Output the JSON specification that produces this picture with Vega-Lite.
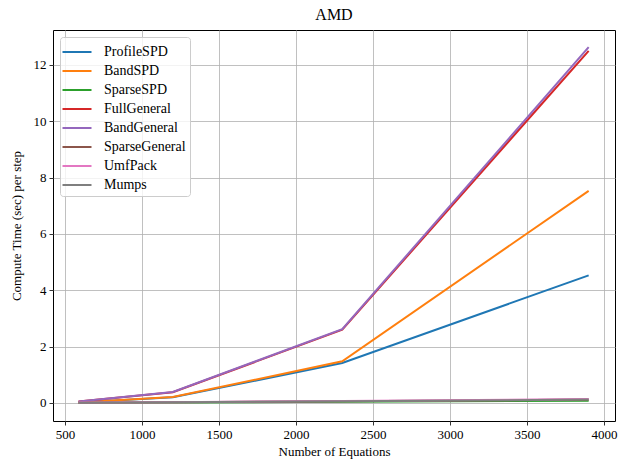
{
  "$schema": "https://vega.github.io/schema/vega-lite/v6.json",
  "width": 562,
  "height": 391,
  "autosize": {"type": "none"},
  "padding": {"left": 53, "top": 30, "right": 13, "bottom": 49},
  "background": "white",
  "title": {"text": "AMD", "font": "Liberation Serif", "fontSize": 16, "fontWeight": "normal", "color": "black", "offset": 7},
  "config": {
    "view": {"stroke": "black", "strokeWidth": 1},
    "font": "Liberation Serif",
    "axis": {
      "grid": true, "gridColor": "#b0b0b0", "gridWidth": 0.8,
      "domain": false, "tickColor": "black", "tickSize": 4, "tickWidth": 0.8,
      "labelFont": "Liberation Serif", "labelFontSize": 13, "labelColor": "black", "labelPadding": 3,
      "titleFont": "Liberation Serif", "titleFontSize": 13, "titleFontWeight": "normal", "titleColor": "black"
    }
  },
  "data": {"values": [
    {"series": "ProfileSPD", "n": 588, "t": 0.02},
    {"series": "ProfileSPD", "n": 1200, "t": 0.2},
    {"series": "ProfileSPD", "n": 2300, "t": 1.42},
    {"series": "ProfileSPD", "n": 3900, "t": 4.53},
    {"series": "BandSPD", "n": 588, "t": 0.02},
    {"series": "BandSPD", "n": 1200, "t": 0.21},
    {"series": "BandSPD", "n": 2300, "t": 1.48},
    {"series": "BandSPD", "n": 3900, "t": 7.53},
    {"series": "SparseSPD", "n": 588, "t": 0.005},
    {"series": "SparseSPD", "n": 1200, "t": 0.015},
    {"series": "SparseSPD", "n": 2300, "t": 0.04},
    {"series": "SparseSPD", "n": 3900, "t": 0.08},
    {"series": "FullGeneral", "n": 588, "t": 0.05},
    {"series": "FullGeneral", "n": 1200, "t": 0.38},
    {"series": "FullGeneral", "n": 2300, "t": 2.6},
    {"series": "FullGeneral", "n": 3900, "t": 12.5},
    {"series": "BandGeneral", "n": 588, "t": 0.05},
    {"series": "BandGeneral", "n": 1200, "t": 0.39},
    {"series": "BandGeneral", "n": 2300, "t": 2.62},
    {"series": "BandGeneral", "n": 3900, "t": 12.63},
    {"series": "SparseGeneral", "n": 588, "t": 0.01},
    {"series": "SparseGeneral", "n": 1200, "t": 0.025},
    {"series": "SparseGeneral", "n": 2300, "t": 0.06},
    {"series": "SparseGeneral", "n": 3900, "t": 0.12},
    {"series": "UmfPack", "n": 588, "t": 0.015},
    {"series": "UmfPack", "n": 1200, "t": 0.03},
    {"series": "UmfPack", "n": 2300, "t": 0.07},
    {"series": "UmfPack", "n": 3900, "t": 0.14},
    {"series": "Mumps", "n": 588, "t": 0.01},
    {"series": "Mumps", "n": 1200, "t": 0.025},
    {"series": "Mumps", "n": 2300, "t": 0.06},
    {"series": "Mumps", "n": 3900, "t": 0.12}
  ]},
  "mark": {"type": "line", "strokeWidth": 2, "clip": true},
  "encoding": {
    "x": {"field": "n", "type": "quantitative", "title": "Number of Equations",
      "scale": {"domain": [422, 4071], "nice": false, "zero": false},
      "axis": {"values": [500, 1000, 1500, 2000, 2500, 3000, 3500, 4000], "format": "d", "titlePadding": 4}},
    "y": {"field": "t", "type": "quantitative", "title": "Compute Time (sec) per step",
      "scale": {"domain": [-0.64, 13.24], "nice": false, "zero": false},
      "axis": {"values": [0, 2, 4, 6, 8, 10, 12], "format": "d", "titlePadding": 10}},
    "color": {"field": "series", "type": "nominal",
      "scale": {"domain": ["ProfileSPD", "BandSPD", "SparseSPD", "FullGeneral", "BandGeneral", "SparseGeneral", "UmfPack", "Mumps"],
        "range": ["#1f77b4", "#ff7f0e", "#2ca02c", "#d62728", "#9467bd", "#8c564b", "#e377c2", "#7f7f7f"]},
      "legend": {"title": null, "orient": "top-left", "offset": 7, "padding": 4,
        "strokeColor": "#cccccc", "fillColor": "rgba(255,255,255,0.8)", "cornerRadius": 3,
        "symbolType": "M-1.45,0H1.45", "symbolSize": 400, "symbolStrokeWidth": 2, "symbolFillColor": "transparent",
        "symbolOffset": 2,
        "labelFont": "Liberation Serif", "labelFontSize": 14, "labelColor": "black",
        "labelOffset": 16, "rowPadding": 1}},
    "order": {"value": 0}
  }
}
